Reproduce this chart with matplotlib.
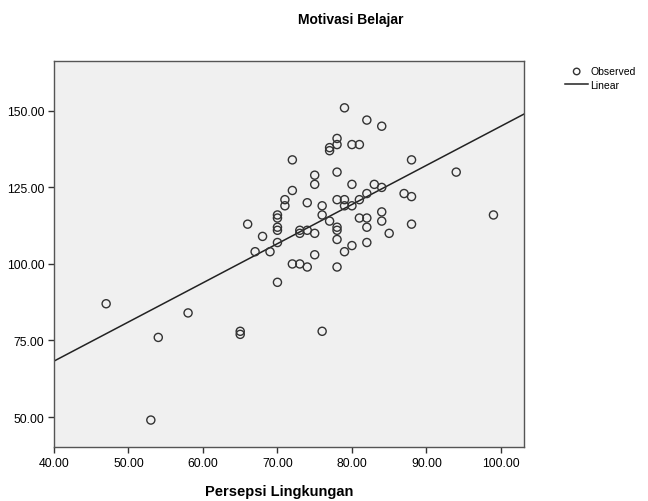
import matplotlib
matplotlib.use("Agg")
import matplotlib.pyplot as plt
import numpy as np

# Persepsi Lingkungan (x) vs Motivasi Belajar (y)
persepsi = [47, 53, 54, 58, 65, 65, 66, 67, 68, 69,
            70, 70, 70, 70, 70, 70, 71, 71, 72, 72, 72,
            73, 73, 73, 74, 74, 74, 75, 75, 75, 75,
            76, 76, 76, 77, 77, 77, 78, 78, 78, 78, 78, 78, 78, 78,
            79, 79, 79, 79, 80, 80, 80, 80, 81, 81, 81,
            82, 82, 82, 82, 82, 83, 84, 84, 84, 84,
            85, 87, 88, 88, 88, 94, 99]
motivasi = [87, 49, 76, 84, 78, 77, 113, 104, 109, 104,
            94, 107, 111, 112, 115, 116, 119, 121, 100, 124, 134,
            100, 110, 111, 99, 111, 120, 103, 110, 126, 129,
            78, 116, 119, 114, 137, 138, 99, 108, 111, 112, 121, 130, 139, 141,
            104, 119, 121, 151, 106, 119, 126, 139, 115, 121, 139,
            107, 112, 115, 123, 147, 126, 114, 117, 125, 145,
            110, 123, 113, 122, 134, 130, 116]

# linear fit line (intercept, slope) as drawn
fit_intercept = 17.1
fit_slope = 1.279

x_ticks = [40, 50, 60, 70, 80, 90, 100]
y_ticks = [50, 75, 100, 125, 150]

plt.rcParams['font.family'] = ['Liberation Sans', 'DejaVu Sans']

fig = plt.figure(figsize=(6.48, 5.02), dpi=100)
ax = fig.add_axes([54/648, 1-448/502, 470/648, 386/502])
ax.set_facecolor('#f0f0f0')

pts = ax.scatter(persepsi, motivasi, s=34, facecolors='none',
                 edgecolors='#333333', linewidths=1.0, zorder=3)
xl = np.array([40, 103.1])
ln, = ax.plot(xl, fit_intercept + fit_slope*xl, color='#222222', lw=1.1, zorder=2)

ax.set_xlim(40, 103.1)
ax.set_ylim(40.2, 166.3)
ax.set_xticks(x_ticks)
ax.set_yticks(y_ticks)
ax.set_xticklabels([f"{v:.2f}" for v in x_ticks])
ax.set_yticklabels([f"{v:.2f}" for v in y_ticks])
ax.tick_params(direction='out', length=4, width=1, colors='#333333',
               labelsize=8.8, labelcolor='black', pad=3)
for s in ax.spines.values():
    s.set_color('#555555')
    s.set_linewidth(1.0)

fig.text(279/648, 1-492/502, "Persepsi Lingkungan", ha='center', va='center',
         fontsize=10.5, fontweight='bold')
fig.text(351/648, 1-20/502, "Motivasi Belajar", ha='center', va='center',
         fontsize=10, fontweight='bold')

# legend on the right
fig.legend([pts, ln], ["Observed", "Linear"], loc='upper left',
           bbox_to_anchor=(560/648, 1-62/502), frameon=False, fontsize=7.5,
           handlelength=2.2, handletextpad=0.2, labelspacing=0.35, borderpad=0,
           markerscale=0.8)

fig.savefig("out.png", dpi=100)
